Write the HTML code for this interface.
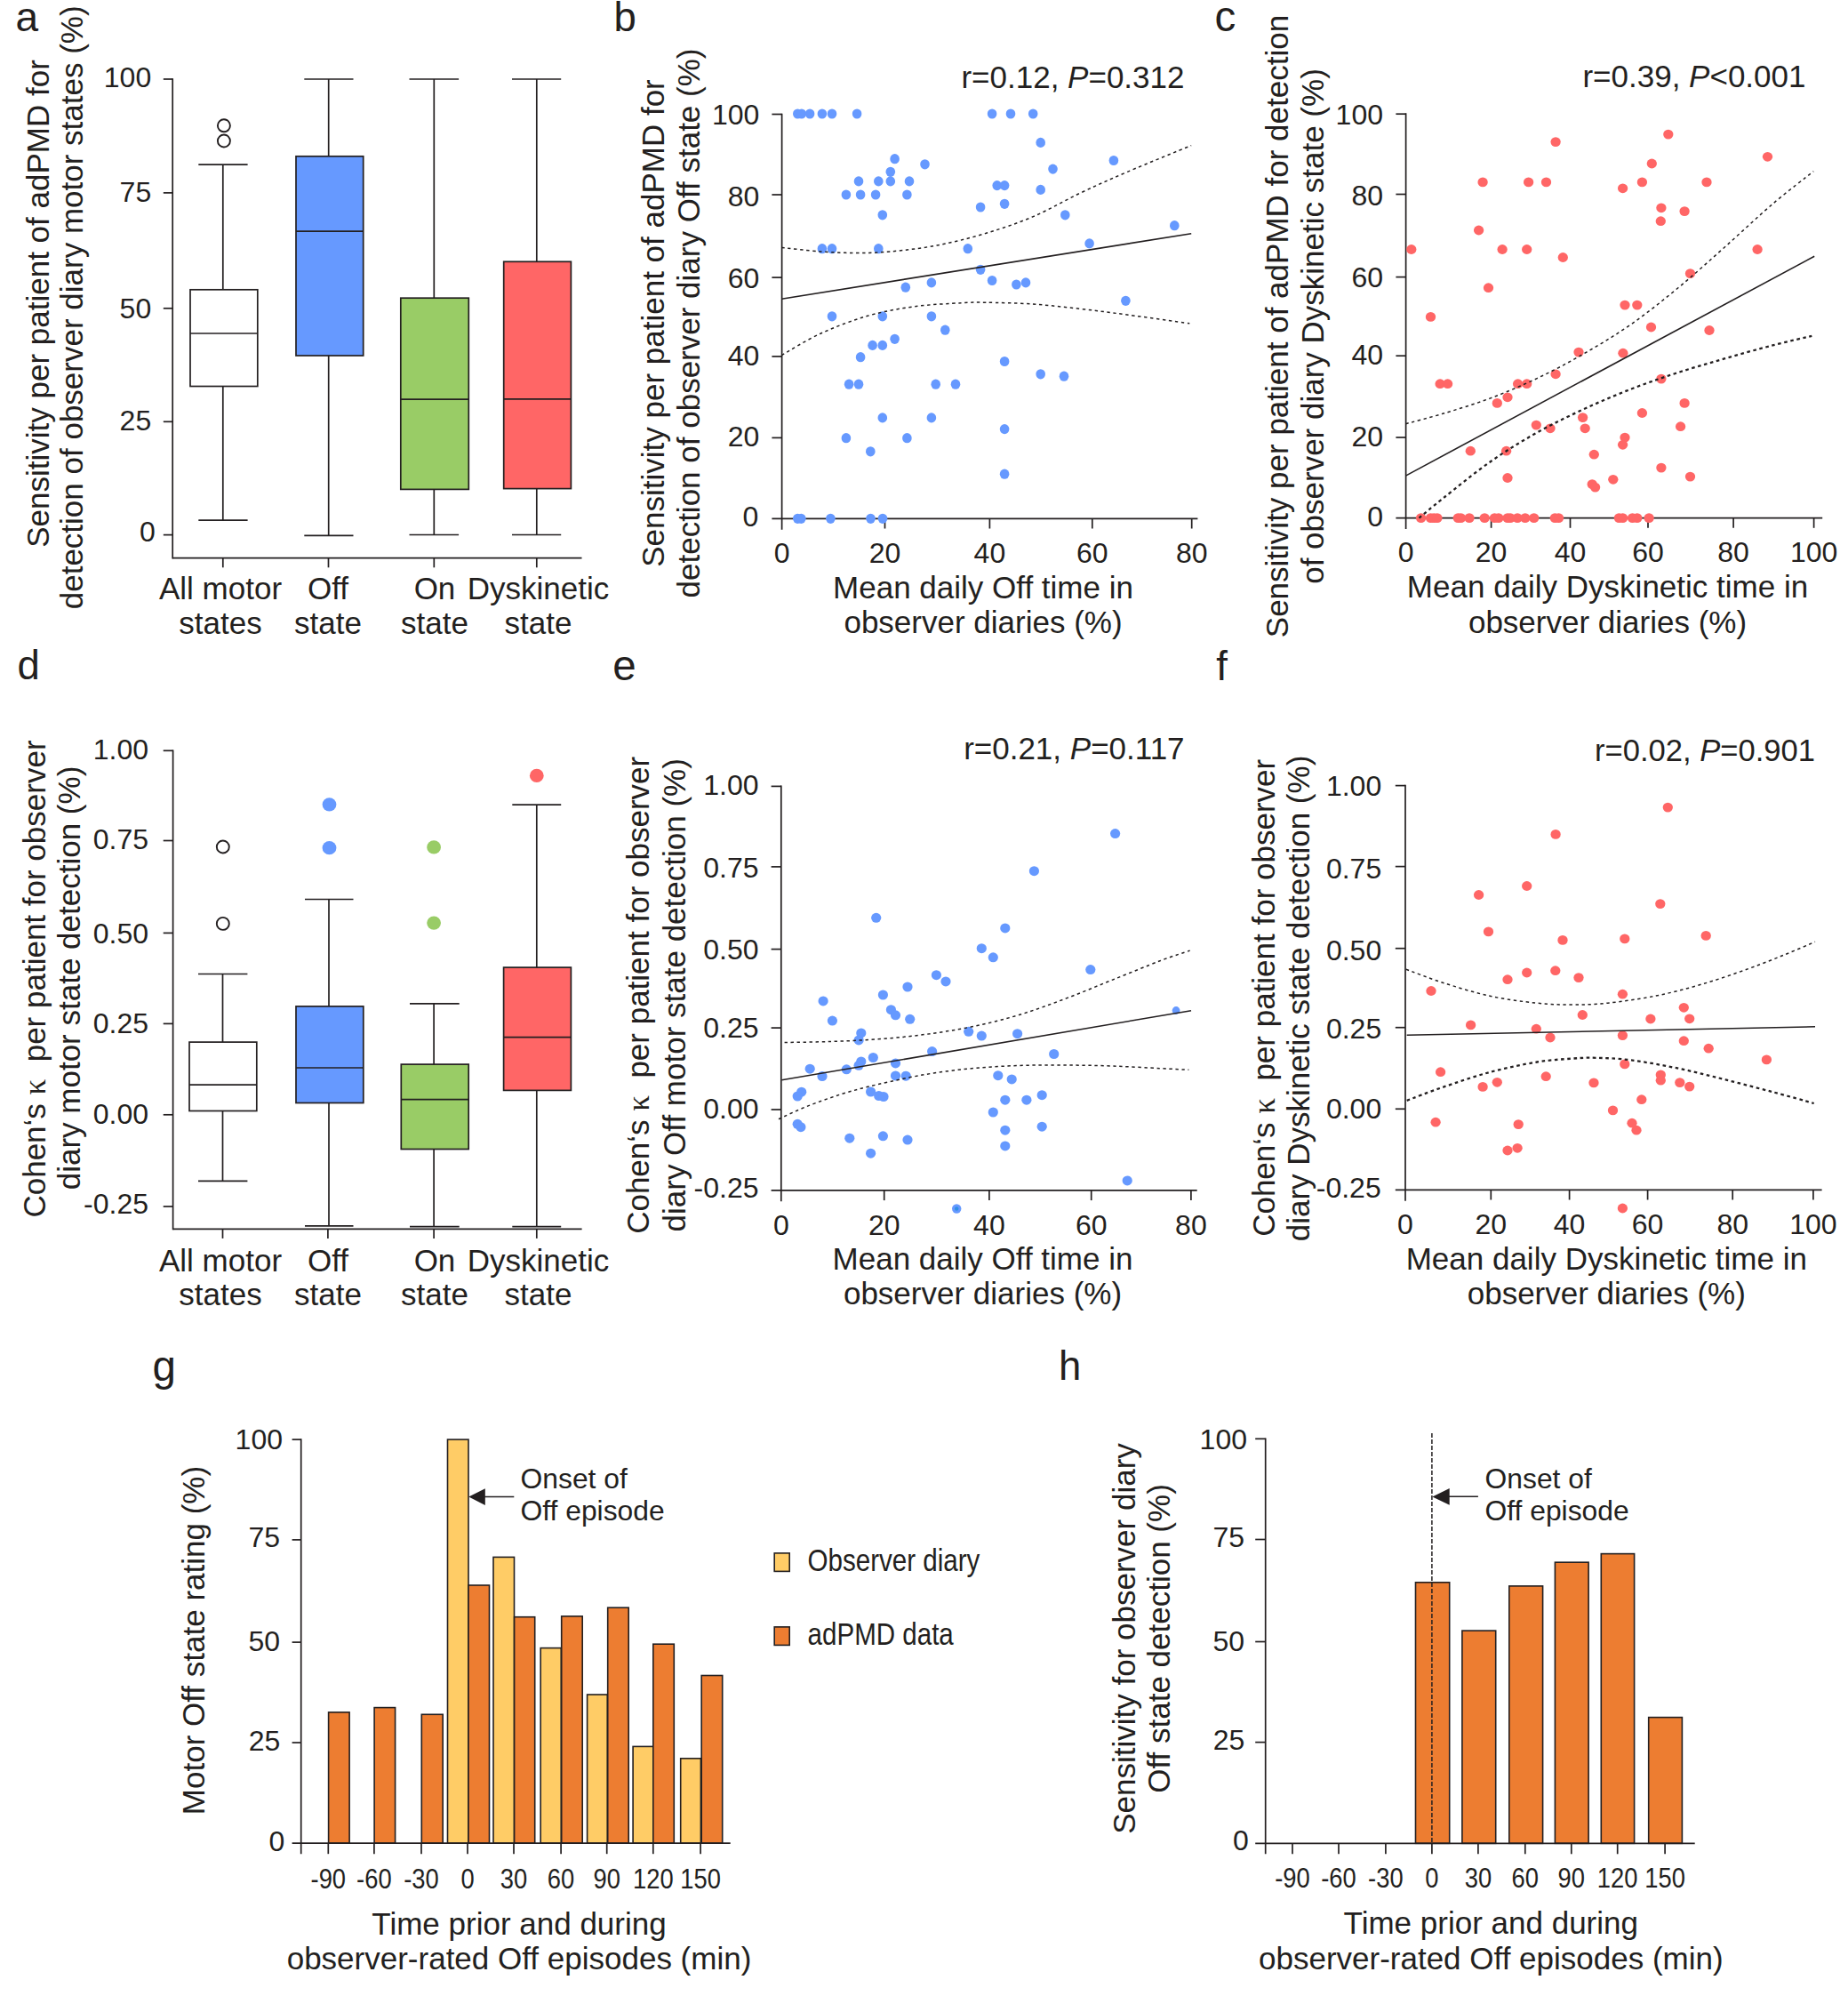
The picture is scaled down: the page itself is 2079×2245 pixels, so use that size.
<!DOCTYPE html>
<html lang="en"><head><meta charset="utf-8"><title>Figure</title>
<style>
html,body{margin:0;padding:0;background:#fff}
svg{display:block}
text{font-family:"Liberation Sans",sans-serif;fill:#231f20}
</style></head>
<body>
<svg width="2079" height="2245" viewBox="0 0 2079 2245">
<rect width="2079" height="2245" fill="#ffffff"/>
<text x="17.5" y="35.2" font-size="46" text-anchor="start" >a</text>
<line x1="194.2" y1="88.2" x2="194.2" y2="628.6" stroke="#231f20" stroke-width="1.7" />
<line x1="194.2" y1="627.7" x2="654.5" y2="627.7" stroke="#231f20" stroke-width="1.7" />
<line x1="183.8" y1="89" x2="194.2" y2="89" stroke="#231f20" stroke-width="1.7" />
<text x="170.2" y="98" font-size="32" text-anchor="end" >100</text>
<line x1="183.8" y1="216.9" x2="194.2" y2="216.9" stroke="#231f20" stroke-width="1.7" />
<text x="170.2" y="227.3" font-size="32" text-anchor="end" >75</text>
<line x1="183.8" y1="346.8" x2="194.2" y2="346.8" stroke="#231f20" stroke-width="1.7" />
<text x="170.2" y="358.2" font-size="32" text-anchor="end" >50</text>
<line x1="183.8" y1="474.3" x2="194.2" y2="474.3" stroke="#231f20" stroke-width="1.7" />
<text x="170.2" y="484.4" font-size="32" text-anchor="end" >25</text>
<line x1="183.8" y1="601.6" x2="194.2" y2="601.6" stroke="#231f20" stroke-width="1.7" />
<text x="174.9" y="609.2" font-size="32" text-anchor="end" >0</text>
<line x1="250.8" y1="627.7" x2="250.8" y2="638.3" stroke="#231f20" stroke-width="1.7" />
<line x1="369.5" y1="627.7" x2="369.5" y2="638.3" stroke="#231f20" stroke-width="1.7" />
<line x1="488.3" y1="627.7" x2="488.3" y2="638.3" stroke="#231f20" stroke-width="1.7" />
<line x1="603.8" y1="627.7" x2="603.8" y2="638.3" stroke="#231f20" stroke-width="1.7" />
<line x1="250.8" y1="185.2" x2="250.8" y2="325.8" stroke="#231f20" stroke-width="1.7" />
<line x1="250.8" y1="434.5" x2="250.8" y2="585.2" stroke="#231f20" stroke-width="1.7" />
<line x1="223.3" y1="185.2" x2="278.6" y2="185.2" stroke="#231f20" stroke-width="1.7" />
<line x1="223.3" y1="585.2" x2="278.6" y2="585.2" stroke="#231f20" stroke-width="1.7" />
<rect x="214" y="325.8" width="75.8" height="108.7" fill="#ffffff" stroke="#231f20" stroke-width="1.7"/>
<line x1="214" y1="375" x2="289.8" y2="375" stroke="#231f20" stroke-width="1.7" />
<circle cx="251.9" cy="141.3" r="7.0" fill="#fff" stroke="#231f20" stroke-width="1.9"/>
<circle cx="251.9" cy="158.5" r="7.0" fill="#fff" stroke="#231f20" stroke-width="1.9"/>
<line x1="369.7" y1="89" x2="369.7" y2="175.8" stroke="#231f20" stroke-width="1.7" />
<line x1="369.7" y1="400" x2="369.7" y2="602.3" stroke="#231f20" stroke-width="1.7" />
<line x1="342.3" y1="89" x2="397.5" y2="89" stroke="#231f20" stroke-width="1.7" />
<line x1="342.3" y1="602.3" x2="397.5" y2="602.3" stroke="#231f20" stroke-width="1.7" />
<rect x="333" y="175.8" width="75.7" height="224.2" fill="#6699ff" stroke="#231f20" stroke-width="1.7"/>
<line x1="333" y1="260.2" x2="408.7" y2="260.2" stroke="#231f20" stroke-width="1.7" />
<line x1="488.3" y1="89" x2="488.3" y2="335.2" stroke="#231f20" stroke-width="1.7" />
<line x1="488.3" y1="550.4" x2="488.3" y2="601.5" stroke="#231f20" stroke-width="1.7" />
<line x1="460.5" y1="89" x2="516.1" y2="89" stroke="#231f20" stroke-width="1.7" />
<line x1="460.5" y1="601.5" x2="516.1" y2="601.5" stroke="#231f20" stroke-width="1.7" />
<rect x="450.8" y="335.2" width="76.5" height="215.2" fill="#99cc66" stroke="#231f20" stroke-width="1.7"/>
<line x1="450.8" y1="449.2" x2="527.3" y2="449.2" stroke="#231f20" stroke-width="1.7" />
<line x1="603.8" y1="89" x2="603.8" y2="294.3" stroke="#231f20" stroke-width="1.7" />
<line x1="603.8" y1="549.6" x2="603.8" y2="601.5" stroke="#231f20" stroke-width="1.7" />
<line x1="576" y1="89" x2="631.2" y2="89" stroke="#231f20" stroke-width="1.7" />
<line x1="576" y1="601.5" x2="631.2" y2="601.5" stroke="#231f20" stroke-width="1.7" />
<rect x="566.7" y="294.3" width="75.7" height="255.3" fill="#ff6666" stroke="#231f20" stroke-width="1.7"/>
<line x1="566.7" y1="448.9" x2="642.4" y2="448.9" stroke="#231f20" stroke-width="1.7" />
<text x="248" y="674.2" font-size="35" text-anchor="middle" >All motor</text>
<text x="248" y="713.4" font-size="35" text-anchor="middle" >states</text>
<text x="369" y="674.2" font-size="35" text-anchor="middle" >Off</text>
<text x="369" y="713.4" font-size="35" text-anchor="middle" >state</text>
<text x="489" y="674.2" font-size="35" text-anchor="middle" >On</text>
<text x="489" y="713.4" font-size="35" text-anchor="middle" >state</text>
<text x="605.5" y="674.2" font-size="35" text-anchor="middle" >Dyskinetic</text>
<text x="605.5" y="713.4" font-size="35" text-anchor="middle" >state</text>
<text x="54.5" y="341.5" font-size="35" text-anchor="middle" transform="rotate(-90 54.5 341.5)" >Sensitivity per patient of adPMD for</text>
<text x="93.5" y="345.8" font-size="35" text-anchor="middle" transform="rotate(-90 93.5 345.8)" >detection of observer diary motor states (%)</text>
<text x="19.5" y="763.5" font-size="45.5" text-anchor="start" >d</text>
<line x1="194.6" y1="843.4" x2="194.6" y2="1383.2" stroke="#231f20" stroke-width="1.7" />
<line x1="194.6" y1="1382.4" x2="654.6" y2="1382.4" stroke="#231f20" stroke-width="1.7" />
<line x1="183.7" y1="844.3" x2="194.6" y2="844.3" stroke="#231f20" stroke-width="1.7" />
<text x="167" y="853.6" font-size="32" text-anchor="end" >1.00</text>
<line x1="183.7" y1="945.5" x2="194.6" y2="945.5" stroke="#231f20" stroke-width="1.7" />
<text x="167" y="955.3" font-size="32" text-anchor="end" >0.75</text>
<line x1="183.7" y1="1049.4" x2="194.6" y2="1049.4" stroke="#231f20" stroke-width="1.7" />
<text x="167" y="1060.6" font-size="32" text-anchor="end" >0.50</text>
<line x1="183.7" y1="1151.4" x2="194.6" y2="1151.4" stroke="#231f20" stroke-width="1.7" />
<text x="167" y="1162" font-size="32" text-anchor="end" >0.25</text>
<line x1="183.7" y1="1253.8" x2="194.6" y2="1253.8" stroke="#231f20" stroke-width="1.7" />
<text x="167" y="1264.4" font-size="32" text-anchor="end" >0.00</text>
<line x1="183.7" y1="1357" x2="194.6" y2="1357" stroke="#231f20" stroke-width="1.7" />
<text x="167" y="1364.7" font-size="32" text-anchor="end" >-0.25</text>
<line x1="250.5" y1="1382.4" x2="250.5" y2="1392.9" stroke="#231f20" stroke-width="1.7" />
<line x1="368.9" y1="1382.4" x2="368.9" y2="1392.9" stroke="#231f20" stroke-width="1.7" />
<line x1="488.1" y1="1382.4" x2="488.1" y2="1392.9" stroke="#231f20" stroke-width="1.7" />
<line x1="603.8" y1="1382.4" x2="603.8" y2="1392.9" stroke="#231f20" stroke-width="1.7" />
<line x1="250.5" y1="1095.5" x2="250.5" y2="1172.1" stroke="#231f20" stroke-width="1.7" />
<line x1="250.5" y1="1249.5" x2="250.5" y2="1328.4" stroke="#231f20" stroke-width="1.7" />
<line x1="223" y1="1095.5" x2="278.4" y2="1095.5" stroke="#231f20" stroke-width="1.7" />
<line x1="223" y1="1328.4" x2="278.4" y2="1328.4" stroke="#231f20" stroke-width="1.7" />
<rect x="213" y="1172.1" width="75.8" height="77.4" fill="#ffffff" stroke="#231f20" stroke-width="1.7"/>
<line x1="213" y1="1220.2" x2="288.8" y2="1220.2" stroke="#231f20" stroke-width="1.7" />
<circle cx="250.8" cy="952.5" r="7.0" fill="#fff" stroke="#231f20" stroke-width="1.9"/>
<circle cx="250.8" cy="1038.9" r="7.0" fill="#fff" stroke="#231f20" stroke-width="1.9"/>
<line x1="370" y1="1011.5" x2="370" y2="1131.9" stroke="#231f20" stroke-width="1.7" />
<line x1="370" y1="1240.5" x2="370" y2="1378.9" stroke="#231f20" stroke-width="1.7" />
<line x1="343" y1="1011.5" x2="397.5" y2="1011.5" stroke="#231f20" stroke-width="1.7" />
<line x1="343" y1="1378.9" x2="397.5" y2="1378.9" stroke="#231f20" stroke-width="1.7" />
<rect x="333" y="1131.9" width="75.8" height="108.6" fill="#6699ff" stroke="#231f20" stroke-width="1.7"/>
<line x1="333" y1="1201" x2="408.8" y2="1201" stroke="#231f20" stroke-width="1.7" />
<ellipse cx="370.5" cy="904.8" rx="7.9" ry="7.6" fill="#6699ff"/>
<ellipse cx="370.5" cy="953.7" rx="7.9" ry="7.6" fill="#6699ff"/>
<line x1="488.1" y1="1128.8" x2="488.1" y2="1197.1" stroke="#231f20" stroke-width="1.7" />
<line x1="488.1" y1="1292.5" x2="488.1" y2="1379.6" stroke="#231f20" stroke-width="1.7" />
<line x1="461" y1="1128.8" x2="516.7" y2="1128.8" stroke="#231f20" stroke-width="1.7" />
<line x1="461" y1="1379.6" x2="516.7" y2="1379.6" stroke="#231f20" stroke-width="1.7" />
<rect x="451.3" y="1197.1" width="75.9" height="95.4" fill="#99cc66" stroke="#231f20" stroke-width="1.7"/>
<line x1="451.3" y1="1236.6" x2="527.2" y2="1236.6" stroke="#231f20" stroke-width="1.7" />
<ellipse cx="488.1" cy="952.9" rx="7.9" ry="7.6" fill="#99cc66"/>
<ellipse cx="488.1" cy="1038.1" rx="7.9" ry="7.6" fill="#99cc66"/>
<line x1="603.8" y1="905.2" x2="603.8" y2="1088.1" stroke="#231f20" stroke-width="1.7" />
<line x1="603.8" y1="1226.4" x2="603.8" y2="1379.6" stroke="#231f20" stroke-width="1.7" />
<line x1="576.3" y1="905.2" x2="631.2" y2="905.2" stroke="#231f20" stroke-width="1.7" />
<line x1="576.3" y1="1379.6" x2="631.2" y2="1379.6" stroke="#231f20" stroke-width="1.7" />
<rect x="566.6" y="1088.1" width="75.8" height="138.3" fill="#ff6666" stroke="#231f20" stroke-width="1.7"/>
<line x1="566.6" y1="1166.7" x2="642.4" y2="1166.7" stroke="#231f20" stroke-width="1.7" />
<ellipse cx="603.8" cy="872.4" rx="7.9" ry="7.6" fill="#ff6666"/>
<text x="248" y="1429.5" font-size="35" text-anchor="middle" >All motor</text>
<text x="248" y="1468" font-size="35" text-anchor="middle" >states</text>
<text x="369" y="1429.5" font-size="35" text-anchor="middle" >Off</text>
<text x="369" y="1468" font-size="35" text-anchor="middle" >state</text>
<text x="489" y="1429.5" font-size="35" text-anchor="middle" >On</text>
<text x="489" y="1468" font-size="35" text-anchor="middle" >state</text>
<text x="605.5" y="1429.5" font-size="35" text-anchor="middle" >Dyskinetic</text>
<text x="605.5" y="1468" font-size="35" text-anchor="middle" >state</text>
<text x="51" y="1101" font-size="35" text-anchor="middle" transform="rotate(-90 51 1101)" >Cohen‘s <tspan font-family="Liberation Serif, DejaVu Serif, serif">κ</tspan>  per patient for observer</text>
<text x="90" y="1100" font-size="35" text-anchor="middle" transform="rotate(-90 90 1100)" >diary motor state detection (%)</text>
<text x="690.5" y="34.5" font-size="45.5" text-anchor="start" >b</text>
<line x1="879.6" y1="127.7" x2="879.6" y2="595.7" stroke="#231f20" stroke-width="1.7" />
<line x1="868.4" y1="583.3" x2="1347.4" y2="583.3" stroke="#231f20" stroke-width="1.7" />
<line x1="995.5" y1="583.3" x2="995.5" y2="594.5" stroke="#231f20" stroke-width="1.7" />
<line x1="1113.4" y1="583.3" x2="1113.4" y2="594.5" stroke="#231f20" stroke-width="1.7" />
<line x1="1228.8" y1="583.3" x2="1228.8" y2="594.5" stroke="#231f20" stroke-width="1.7" />
<line x1="1340.7" y1="583.3" x2="1340.7" y2="594.5" stroke="#231f20" stroke-width="1.7" />
<line x1="868.4" y1="128.5" x2="879.6" y2="128.5" stroke="#231f20" stroke-width="1.7" />
<line x1="868.4" y1="219" x2="879.6" y2="219" stroke="#231f20" stroke-width="1.7" />
<line x1="868.4" y1="312.1" x2="879.6" y2="312.1" stroke="#231f20" stroke-width="1.7" />
<line x1="868.4" y1="400.9" x2="879.6" y2="400.9" stroke="#231f20" stroke-width="1.7" />
<line x1="868.4" y1="492.4" x2="879.6" y2="492.4" stroke="#231f20" stroke-width="1.7" />
<text x="879.6" y="632.6" font-size="32" text-anchor="middle" >0</text>
<text x="995.5" y="632.6" font-size="32" text-anchor="middle" >20</text>
<text x="1113.4" y="632.6" font-size="32" text-anchor="middle" >40</text>
<text x="1228.8" y="632.6" font-size="32" text-anchor="middle" >60</text>
<text x="1340.7" y="632.6" font-size="32" text-anchor="middle" >80</text>
<text x="854.4" y="140.1" font-size="32" text-anchor="end" >100</text>
<text x="854.4" y="231.5" font-size="32" text-anchor="end" >80</text>
<text x="854.4" y="324.2" font-size="32" text-anchor="end" >60</text>
<text x="854.4" y="410.7" font-size="32" text-anchor="end" >40</text>
<text x="854.4" y="502.2" font-size="32" text-anchor="end" >20</text>
<text x="853.4" y="592.2" font-size="32" text-anchor="end" >0</text>
<ellipse cx="1170.7" cy="160.4" rx="5.3" ry="5.6" fill="#6699ff"/>
<ellipse cx="1006.6" cy="178.7" rx="5.3" ry="5.6" fill="#6699ff"/>
<ellipse cx="1252.9" cy="180.5" rx="5.3" ry="5.6" fill="#6699ff"/>
<ellipse cx="1040.5" cy="184.8" rx="5.3" ry="5.6" fill="#6699ff"/>
<ellipse cx="1184.5" cy="190.1" rx="5.3" ry="5.6" fill="#6699ff"/>
<ellipse cx="1001.8" cy="193.3" rx="5.3" ry="5.6" fill="#6699ff"/>
<ellipse cx="966" cy="203.9" rx="5.3" ry="5.6" fill="#6699ff"/>
<ellipse cx="988.3" cy="203.9" rx="5.3" ry="5.6" fill="#6699ff"/>
<ellipse cx="1001.8" cy="203.9" rx="5.3" ry="5.6" fill="#6699ff"/>
<ellipse cx="1023" cy="203.9" rx="5.3" ry="5.6" fill="#6699ff"/>
<ellipse cx="1121.7" cy="208.6" rx="5.3" ry="5.6" fill="#6699ff"/>
<ellipse cx="1130.1" cy="208.6" rx="5.3" ry="5.6" fill="#6699ff"/>
<ellipse cx="1170.7" cy="213.4" rx="5.3" ry="5.6" fill="#6699ff"/>
<ellipse cx="951.9" cy="219" rx="5.3" ry="5.6" fill="#6699ff"/>
<ellipse cx="968.1" cy="219" rx="5.3" ry="5.6" fill="#6699ff"/>
<ellipse cx="985.1" cy="219" rx="5.3" ry="5.6" fill="#6699ff"/>
<ellipse cx="1020.4" cy="219" rx="5.3" ry="5.6" fill="#6699ff"/>
<ellipse cx="1130.1" cy="229.3" rx="5.3" ry="5.6" fill="#6699ff"/>
<ellipse cx="1103.1" cy="233" rx="5.3" ry="5.6" fill="#6699ff"/>
<ellipse cx="992.8" cy="241.8" rx="5.3" ry="5.6" fill="#6699ff"/>
<ellipse cx="1198.3" cy="241.8" rx="5.3" ry="5.6" fill="#6699ff"/>
<ellipse cx="1321.3" cy="253.7" rx="5.3" ry="5.6" fill="#6699ff"/>
<ellipse cx="1225.6" cy="273.9" rx="5.3" ry="5.6" fill="#6699ff"/>
<ellipse cx="924.9" cy="279.7" rx="5.3" ry="5.6" fill="#6699ff"/>
<ellipse cx="936" cy="279.7" rx="5.3" ry="5.6" fill="#6699ff"/>
<ellipse cx="988.3" cy="279.7" rx="5.3" ry="5.6" fill="#6699ff"/>
<ellipse cx="1088.8" cy="279.7" rx="5.3" ry="5.6" fill="#6699ff"/>
<ellipse cx="1103.1" cy="303.3" rx="5.3" ry="5.6" fill="#6699ff"/>
<ellipse cx="1116.1" cy="315.5" rx="5.3" ry="5.6" fill="#6699ff"/>
<ellipse cx="1047.9" cy="317.9" rx="5.3" ry="5.6" fill="#6699ff"/>
<ellipse cx="1143.4" cy="320" rx="5.3" ry="5.6" fill="#6699ff"/>
<ellipse cx="1154" cy="317.9" rx="5.3" ry="5.6" fill="#6699ff"/>
<ellipse cx="1018.8" cy="323.2" rx="5.3" ry="5.6" fill="#6699ff"/>
<ellipse cx="1266.4" cy="338.3" rx="5.3" ry="5.6" fill="#6699ff"/>
<ellipse cx="936" cy="355.8" rx="5.3" ry="5.6" fill="#6699ff"/>
<ellipse cx="992.8" cy="355.8" rx="5.3" ry="5.6" fill="#6699ff"/>
<ellipse cx="1047.9" cy="355.8" rx="5.3" ry="5.6" fill="#6699ff"/>
<ellipse cx="1063.3" cy="371.2" rx="5.3" ry="5.6" fill="#6699ff"/>
<ellipse cx="1006.6" cy="381.3" rx="5.3" ry="5.6" fill="#6699ff"/>
<ellipse cx="981.6" cy="388.4" rx="5.3" ry="5.6" fill="#6699ff"/>
<ellipse cx="992.8" cy="388.4" rx="5.3" ry="5.6" fill="#6699ff"/>
<ellipse cx="968.1" cy="401.7" rx="5.3" ry="5.6" fill="#6699ff"/>
<ellipse cx="1130.1" cy="406.5" rx="5.3" ry="5.6" fill="#6699ff"/>
<ellipse cx="1170.7" cy="420.8" rx="5.3" ry="5.6" fill="#6699ff"/>
<ellipse cx="1197" cy="423.2" rx="5.3" ry="5.6" fill="#6699ff"/>
<ellipse cx="955.1" cy="432.2" rx="5.3" ry="5.6" fill="#6699ff"/>
<ellipse cx="966" cy="432.2" rx="5.3" ry="5.6" fill="#6699ff"/>
<ellipse cx="1052.7" cy="432.2" rx="5.3" ry="5.6" fill="#6699ff"/>
<ellipse cx="1075" cy="432.2" rx="5.3" ry="5.6" fill="#6699ff"/>
<ellipse cx="992.8" cy="469.9" rx="5.3" ry="5.6" fill="#6699ff"/>
<ellipse cx="1047.9" cy="469.9" rx="5.3" ry="5.6" fill="#6699ff"/>
<ellipse cx="1130.1" cy="482.6" rx="5.3" ry="5.6" fill="#6699ff"/>
<ellipse cx="951.9" cy="492.7" rx="5.3" ry="5.6" fill="#6699ff"/>
<ellipse cx="1020.4" cy="492.7" rx="5.3" ry="5.6" fill="#6699ff"/>
<ellipse cx="979.3" cy="507.8" rx="5.3" ry="5.6" fill="#6699ff"/>
<ellipse cx="1130.1" cy="533.2" rx="5.3" ry="5.6" fill="#6699ff"/>
<ellipse cx="897.3" cy="128" rx="5.3" ry="5.6" fill="#6699ff"/>
<ellipse cx="901.8" cy="128" rx="5.3" ry="5.6" fill="#6699ff"/>
<ellipse cx="911.1" cy="128" rx="5.3" ry="5.6" fill="#6699ff"/>
<ellipse cx="924.9" cy="128" rx="5.3" ry="5.6" fill="#6699ff"/>
<ellipse cx="936" cy="128" rx="5.3" ry="5.6" fill="#6699ff"/>
<ellipse cx="964.1" cy="128" rx="5.3" ry="5.6" fill="#6699ff"/>
<ellipse cx="1116.1" cy="128" rx="5.3" ry="5.6" fill="#6699ff"/>
<ellipse cx="1137" cy="128" rx="5.3" ry="5.6" fill="#6699ff"/>
<ellipse cx="1162.2" cy="128" rx="5.3" ry="5.6" fill="#6699ff"/>
<ellipse cx="897.3" cy="583.3" rx="5.3" ry="5.6" fill="#6699ff"/>
<ellipse cx="901.3" cy="583.3" rx="5.3" ry="5.6" fill="#6699ff"/>
<ellipse cx="934.4" cy="583.3" rx="5.3" ry="5.6" fill="#6699ff"/>
<ellipse cx="979.5" cy="583.3" rx="5.3" ry="5.6" fill="#6699ff"/>
<ellipse cx="993" cy="583.3" rx="5.3" ry="5.6" fill="#6699ff"/>
<line x1="879.3" y1="336.2" x2="1340.2" y2="262.7" stroke="#231f20" stroke-width="1.6" />
<path d="M879.3 278.4C886.6 279.1 909.1 281.9 923 282.9C937 283.9 949.6 284.5 962.8 284.5C976.1 284.5 987.1 284.4 1002.6 282.9C1018.1 281.4 1037.9 279.1 1055.6 275.7C1073.3 272.3 1091 267.8 1108.7 262.5C1126.3 257.2 1144 251.4 1161.7 243.9C1179.4 236.4 1197.1 225.8 1214.7 217.4C1232.4 209 1246.9 202.5 1267.8 193.5C1288.7 184.6 1328.1 168.6 1340.2 163.6" fill="none" stroke="#231f20" stroke-width="1.5" stroke-dasharray="3.4 3.6"/>
<path d="M879.3 399.6C886.6 395.5 906.9 382.6 923 375.2C939.2 367.8 958.4 360.4 976.1 355.3C993.8 350.2 1011.4 347.1 1029.1 344.7C1046.8 342.3 1068.9 341.5 1082.1 340.7C1095.4 340 1095.4 340 1108.7 340.2C1121.9 340.4 1144 340.8 1161.7 342C1179.4 343.2 1197.1 345.3 1214.7 347.3C1232.4 349.3 1247.2 351.2 1267.8 354C1288.4 356.7 1326.6 362.1 1338.3 363.8" fill="none" stroke="#231f20" stroke-width="1.5" stroke-dasharray="3.4 3.6"/>
<text x="1332.5" y="98.6" font-size="35" text-anchor="end" >r=0.12, <tspan font-style="italic">P</tspan>=0.312</text>
<text x="1106" y="672.6" font-size="35" text-anchor="middle" >Mean daily Off time in</text>
<text x="1106" y="712.4" font-size="35" text-anchor="middle" >observer diaries (%)</text>
<text x="747.4" y="363.5" font-size="35" text-anchor="middle" transform="rotate(-90 747.4 363.5)" >Sensitivity per patient of adPMD for</text>
<text x="786.8" y="363.5" font-size="35" text-anchor="middle" transform="rotate(-90 786.8 363.5)" >detection of observer diary Off state (%)</text>
<text x="1366.6" y="34.6" font-size="47.5" text-anchor="start" >c</text>
<line x1="1581.6" y1="127.3" x2="1581.6" y2="595" stroke="#231f20" stroke-width="1.7" />
<line x1="1570.4" y1="582.6" x2="2050.2" y2="582.6" stroke="#231f20" stroke-width="1.7" />
<line x1="1677.6" y1="582.6" x2="1677.6" y2="593.8" stroke="#231f20" stroke-width="1.7" />
<line x1="1766.5" y1="582.6" x2="1766.5" y2="593.8" stroke="#231f20" stroke-width="1.7" />
<line x1="1854" y1="582.6" x2="1854" y2="593.8" stroke="#231f20" stroke-width="1.7" />
<line x1="1950.1" y1="582.6" x2="1950.1" y2="593.8" stroke="#231f20" stroke-width="1.7" />
<line x1="2040.6" y1="582.6" x2="2040.6" y2="593.8" stroke="#231f20" stroke-width="1.7" />
<line x1="1570.4" y1="128.2" x2="1581.6" y2="128.2" stroke="#231f20" stroke-width="1.7" />
<line x1="1570.4" y1="218.5" x2="1581.6" y2="218.5" stroke="#231f20" stroke-width="1.7" />
<line x1="1570.4" y1="311.6" x2="1581.6" y2="311.6" stroke="#231f20" stroke-width="1.7" />
<line x1="1570.4" y1="400.2" x2="1581.6" y2="400.2" stroke="#231f20" stroke-width="1.7" />
<line x1="1570.4" y1="492" x2="1581.6" y2="492" stroke="#231f20" stroke-width="1.7" />
<text x="1581.6" y="631.7" font-size="32" text-anchor="middle" >0</text>
<text x="1677.6" y="631.7" font-size="32" text-anchor="middle" >20</text>
<text x="1766.5" y="631.7" font-size="32" text-anchor="middle" >40</text>
<text x="1854" y="631.7" font-size="32" text-anchor="middle" >60</text>
<text x="1950.1" y="631.7" font-size="32" text-anchor="middle" >80</text>
<text x="2040.6" y="631.7" font-size="32" text-anchor="middle" >100</text>
<text x="1556" y="139.8" font-size="32" text-anchor="end" >100</text>
<text x="1556" y="230.8" font-size="32" text-anchor="end" >80</text>
<text x="1556" y="323.2" font-size="32" text-anchor="end" >60</text>
<text x="1556" y="410" font-size="32" text-anchor="end" >40</text>
<text x="1556" y="501.8" font-size="32" text-anchor="end" >20</text>
<text x="1556" y="592" font-size="32" text-anchor="end" >0</text>
<ellipse cx="1876.8" cy="151.1" rx="5.65" ry="5.4" fill="#ff6666"/>
<ellipse cx="1750.1" cy="159.6" rx="5.65" ry="5.4" fill="#ff6666"/>
<ellipse cx="1988.5" cy="176.3" rx="5.65" ry="5.4" fill="#ff6666"/>
<ellipse cx="1858.3" cy="184" rx="5.65" ry="5.4" fill="#ff6666"/>
<ellipse cx="1668.1" cy="204.9" rx="5.65" ry="5.4" fill="#ff6666"/>
<ellipse cx="1719.6" cy="204.9" rx="5.65" ry="5.4" fill="#ff6666"/>
<ellipse cx="1739.5" cy="204.9" rx="5.65" ry="5.4" fill="#ff6666"/>
<ellipse cx="1847.4" cy="204.9" rx="5.65" ry="5.4" fill="#ff6666"/>
<ellipse cx="1920" cy="204.9" rx="5.65" ry="5.4" fill="#ff6666"/>
<ellipse cx="1825.6" cy="211.8" rx="5.65" ry="5.4" fill="#ff6666"/>
<ellipse cx="1868.9" cy="233.8" rx="5.65" ry="5.4" fill="#ff6666"/>
<ellipse cx="1895.1" cy="237.6" rx="5.65" ry="5.4" fill="#ff6666"/>
<ellipse cx="1868.3" cy="248.7" rx="5.65" ry="5.4" fill="#ff6666"/>
<ellipse cx="1663.6" cy="259" rx="5.65" ry="5.4" fill="#ff6666"/>
<ellipse cx="1587.8" cy="280.5" rx="5.65" ry="5.4" fill="#ff6666"/>
<ellipse cx="1690.1" cy="280.5" rx="5.65" ry="5.4" fill="#ff6666"/>
<ellipse cx="1717.7" cy="280.5" rx="5.65" ry="5.4" fill="#ff6666"/>
<ellipse cx="1977.1" cy="280.5" rx="5.65" ry="5.4" fill="#ff6666"/>
<ellipse cx="1758.3" cy="289.5" rx="5.65" ry="5.4" fill="#ff6666"/>
<ellipse cx="1901.5" cy="307.6" rx="5.65" ry="5.4" fill="#ff6666"/>
<ellipse cx="1674.5" cy="323.7" rx="5.65" ry="5.4" fill="#ff6666"/>
<ellipse cx="1828" cy="343.1" rx="5.65" ry="5.4" fill="#ff6666"/>
<ellipse cx="1841.8" cy="343.1" rx="5.65" ry="5.4" fill="#ff6666"/>
<ellipse cx="1609.5" cy="356.4" rx="5.65" ry="5.4" fill="#ff6666"/>
<ellipse cx="1857.5" cy="368" rx="5.65" ry="5.4" fill="#ff6666"/>
<ellipse cx="1923" cy="371.5" rx="5.65" ry="5.4" fill="#ff6666"/>
<ellipse cx="1776" cy="396.1" rx="5.65" ry="5.4" fill="#ff6666"/>
<ellipse cx="1825.9" cy="397.2" rx="5.65" ry="5.4" fill="#ff6666"/>
<ellipse cx="1750.1" cy="420.8" rx="5.65" ry="5.4" fill="#ff6666"/>
<ellipse cx="1868.9" cy="426.1" rx="5.65" ry="5.4" fill="#ff6666"/>
<ellipse cx="1620.1" cy="431.7" rx="5.65" ry="5.4" fill="#ff6666"/>
<ellipse cx="1628.6" cy="431.7" rx="5.65" ry="5.4" fill="#ff6666"/>
<ellipse cx="1707.6" cy="431.7" rx="5.65" ry="5.4" fill="#ff6666"/>
<ellipse cx="1717.7" cy="431.7" rx="5.65" ry="5.4" fill="#ff6666"/>
<ellipse cx="1696" cy="446.8" rx="5.65" ry="5.4" fill="#ff6666"/>
<ellipse cx="1684.3" cy="453.4" rx="5.65" ry="5.4" fill="#ff6666"/>
<ellipse cx="1895.1" cy="453.4" rx="5.65" ry="5.4" fill="#ff6666"/>
<ellipse cx="1847.4" cy="464.5" rx="5.65" ry="5.4" fill="#ff6666"/>
<ellipse cx="1780.6" cy="469.6" rx="5.65" ry="5.4" fill="#ff6666"/>
<ellipse cx="1728.3" cy="478.1" rx="5.65" ry="5.4" fill="#ff6666"/>
<ellipse cx="1744" cy="481.8" rx="5.65" ry="5.4" fill="#ff6666"/>
<ellipse cx="1783.2" cy="481.8" rx="5.65" ry="5.4" fill="#ff6666"/>
<ellipse cx="1890.6" cy="479.7" rx="5.65" ry="5.4" fill="#ff6666"/>
<ellipse cx="1828" cy="492.1" rx="5.65" ry="5.4" fill="#ff6666"/>
<ellipse cx="1825.6" cy="500.3" rx="5.65" ry="5.4" fill="#ff6666"/>
<ellipse cx="1654.3" cy="507.2" rx="5.65" ry="5.4" fill="#ff6666"/>
<ellipse cx="1694.6" cy="507.2" rx="5.65" ry="5.4" fill="#ff6666"/>
<ellipse cx="1793.3" cy="511.2" rx="5.65" ry="5.4" fill="#ff6666"/>
<ellipse cx="1868.9" cy="526.1" rx="5.65" ry="5.4" fill="#ff6666"/>
<ellipse cx="1696" cy="537.5" rx="5.65" ry="5.4" fill="#ff6666"/>
<ellipse cx="1901.5" cy="536.1" rx="5.65" ry="5.4" fill="#ff6666"/>
<ellipse cx="1814.8" cy="539.3" rx="5.65" ry="5.4" fill="#ff6666"/>
<ellipse cx="1791.2" cy="544.6" rx="5.65" ry="5.4" fill="#ff6666"/>
<ellipse cx="1794.6" cy="548.1" rx="5.65" ry="5.4" fill="#ff6666"/>
<ellipse cx="1598.6" cy="582.6" rx="5.65" ry="5.4" fill="#ff6666"/>
<ellipse cx="1609.5" cy="582.6" rx="5.65" ry="5.4" fill="#ff6666"/>
<ellipse cx="1613.2" cy="582.6" rx="5.65" ry="5.4" fill="#ff6666"/>
<ellipse cx="1616.9" cy="582.6" rx="5.65" ry="5.4" fill="#ff6666"/>
<ellipse cx="1640.3" cy="582.6" rx="5.65" ry="5.4" fill="#ff6666"/>
<ellipse cx="1643.5" cy="582.6" rx="5.65" ry="5.4" fill="#ff6666"/>
<ellipse cx="1653" cy="582.6" rx="5.65" ry="5.4" fill="#ff6666"/>
<ellipse cx="1670.2" cy="582.6" rx="5.65" ry="5.4" fill="#ff6666"/>
<ellipse cx="1681.4" cy="582.6" rx="5.65" ry="5.4" fill="#ff6666"/>
<ellipse cx="1685.9" cy="582.6" rx="5.65" ry="5.4" fill="#ff6666"/>
<ellipse cx="1696" cy="582.6" rx="5.65" ry="5.4" fill="#ff6666"/>
<ellipse cx="1699.1" cy="582.6" rx="5.65" ry="5.4" fill="#ff6666"/>
<ellipse cx="1707.1" cy="582.6" rx="5.65" ry="5.4" fill="#ff6666"/>
<ellipse cx="1715.8" cy="582.6" rx="5.65" ry="5.4" fill="#ff6666"/>
<ellipse cx="1725.7" cy="582.6" rx="5.65" ry="5.4" fill="#ff6666"/>
<ellipse cx="1749.3" cy="582.6" rx="5.65" ry="5.4" fill="#ff6666"/>
<ellipse cx="1753.5" cy="582.6" rx="5.65" ry="5.4" fill="#ff6666"/>
<ellipse cx="1821.4" cy="582.6" rx="5.65" ry="5.4" fill="#ff6666"/>
<ellipse cx="1825.6" cy="582.6" rx="5.65" ry="5.4" fill="#ff6666"/>
<ellipse cx="1836.5" cy="582.6" rx="5.65" ry="5.4" fill="#ff6666"/>
<ellipse cx="1841.8" cy="582.6" rx="5.65" ry="5.4" fill="#ff6666"/>
<ellipse cx="1855.1" cy="582.6" rx="5.65" ry="5.4" fill="#ff6666"/>
<line x1="1581.4" y1="535.1" x2="2041.2" y2="288.2" stroke="#231f20" stroke-width="1.6" />
<path d="M1581.4 476.7C1588.3 474.8 1607.3 470.1 1623 465.3C1638.8 460.6 1658.4 454.7 1676.1 448.1C1693.8 441.5 1711.4 434 1729.1 425.6C1746.8 417.2 1764.5 407.9 1782.1 397.7C1799.8 387.6 1817.5 376.9 1835.2 364.6C1852.9 352.2 1870.5 338.1 1888.2 323.5C1905.9 308.9 1923.6 292.8 1941.3 277.1C1958.9 261.4 1977.8 243.4 1994.3 229.3C2010.8 215.3 2032.5 198.8 2040.2 192.7" fill="none" stroke="#231f20" stroke-width="1.5" stroke-dasharray="3.4 3.6"/>
<path d="M1596.5 582.6C1600.9 578.9 1609.8 571.3 1623 560.8C1636.3 550.3 1658.4 532.1 1676.1 519.7C1693.8 507.3 1711.4 496.5 1729.1 486.6C1746.8 476.6 1764.5 468.2 1782.1 460C1799.8 451.9 1817.5 444.3 1835.2 437.5C1852.9 430.6 1870.5 424.7 1888.2 418.9C1905.9 413.2 1923.6 408.1 1941.3 403C1958.9 397.9 1978.1 392.6 1994.3 388.4C2010.5 384.2 2031 379.6 2038.3 377.8" fill="none" stroke="#231f20" stroke-width="2.3" stroke-dasharray="3.6 3.6"/>
<text x="2031.5" y="97.7" font-size="35" text-anchor="end" >r=0.39, <tspan font-style="italic">P</tspan>&lt;0.001</text>
<text x="1808.5" y="672.4" font-size="35" text-anchor="middle" >Mean daily Dyskinetic time in</text>
<text x="1808.5" y="712.4" font-size="35" text-anchor="middle" >observer diaries (%)</text>
<text x="1448.6" y="367" font-size="35" text-anchor="middle" transform="rotate(-90 1448.6 367)" >Sensitivity per patient of adPMD for detection</text>
<text x="1488.8" y="367" font-size="35" text-anchor="middle" transform="rotate(-90 1488.8 367)" >of observer diary Dyskinetic state (%)</text>
<text x="689.3" y="764.6" font-size="47.5" text-anchor="start" >e</text>
<line x1="878.8" y1="883.5" x2="878.8" y2="1351.3" stroke="#231f20" stroke-width="1.7" />
<line x1="867.6" y1="1338.9" x2="1346.7" y2="1338.9" stroke="#231f20" stroke-width="1.7" />
<line x1="994.7" y1="1338.9" x2="994.7" y2="1350.1" stroke="#231f20" stroke-width="1.7" />
<line x1="1112.9" y1="1338.9" x2="1112.9" y2="1350.1" stroke="#231f20" stroke-width="1.7" />
<line x1="1227.7" y1="1338.9" x2="1227.7" y2="1350.1" stroke="#231f20" stroke-width="1.7" />
<line x1="1339.9" y1="1338.9" x2="1339.9" y2="1350.1" stroke="#231f20" stroke-width="1.7" />
<line x1="867.6" y1="884.4" x2="878.8" y2="884.4" stroke="#231f20" stroke-width="1.7" />
<line x1="867.6" y1="974.9" x2="878.8" y2="974.9" stroke="#231f20" stroke-width="1.7" />
<line x1="867.6" y1="1067.6" x2="878.8" y2="1067.6" stroke="#231f20" stroke-width="1.7" />
<line x1="867.6" y1="1156.1" x2="878.8" y2="1156.1" stroke="#231f20" stroke-width="1.7" />
<line x1="867.6" y1="1248" x2="878.8" y2="1248" stroke="#231f20" stroke-width="1.7" />
<text x="878.8" y="1389.1" font-size="32" text-anchor="middle" >0</text>
<text x="994.7" y="1389.1" font-size="32" text-anchor="middle" >20</text>
<text x="1112.9" y="1389.1" font-size="32" text-anchor="middle" >40</text>
<text x="1227.7" y="1389.1" font-size="32" text-anchor="middle" >60</text>
<text x="1339.9" y="1389.1" font-size="32" text-anchor="middle" >80</text>
<text x="853.5" y="894.4" font-size="32" text-anchor="end" >1.00</text>
<text x="853.5" y="986.5" font-size="32" text-anchor="end" >0.75</text>
<text x="853.5" y="1079.2" font-size="32" text-anchor="end" >0.50</text>
<text x="853.5" y="1166.8" font-size="32" text-anchor="end" >0.25</text>
<text x="853.5" y="1257.6" font-size="32" text-anchor="end" >0.00</text>
<text x="853.5" y="1346.9" font-size="32" text-anchor="end" >-0.25</text>
<ellipse cx="1254.6" cy="937.6" rx="5.6" ry="5.5" fill="#6699ff"/>
<ellipse cx="1163.4" cy="979.7" rx="5.6" ry="5.5" fill="#6699ff"/>
<ellipse cx="985.7" cy="1032.3" rx="5.6" ry="5.5" fill="#6699ff"/>
<ellipse cx="1130.8" cy="1043.9" rx="5.6" ry="5.5" fill="#6699ff"/>
<ellipse cx="1104.3" cy="1066.7" rx="5.6" ry="5.5" fill="#6699ff"/>
<ellipse cx="1117.3" cy="1076.8" rx="5.6" ry="5.5" fill="#6699ff"/>
<ellipse cx="1226.8" cy="1090.6" rx="5.6" ry="5.5" fill="#6699ff"/>
<ellipse cx="1053.4" cy="1096.7" rx="5.6" ry="5.5" fill="#6699ff"/>
<ellipse cx="1064" cy="1103.9" rx="5.6" ry="5.5" fill="#6699ff"/>
<ellipse cx="1021" cy="1110" rx="5.6" ry="5.5" fill="#6699ff"/>
<ellipse cx="993.4" cy="1119" rx="5.6" ry="5.5" fill="#6699ff"/>
<ellipse cx="926.1" cy="1125.9" rx="5.6" ry="5.5" fill="#6699ff"/>
<ellipse cx="1002.4" cy="1135.7" rx="5.6" ry="5.5" fill="#6699ff"/>
<ellipse cx="1007.5" cy="1141.8" rx="5.6" ry="5.5" fill="#6699ff"/>
<ellipse cx="1023.7" cy="1146.3" rx="5.6" ry="5.5" fill="#6699ff"/>
<ellipse cx="936.4" cy="1148.1" rx="5.6" ry="5.5" fill="#6699ff"/>
<ellipse cx="1089.7" cy="1160.3" rx="5.6" ry="5.5" fill="#6699ff"/>
<ellipse cx="968.8" cy="1161.9" rx="5.6" ry="5.5" fill="#6699ff"/>
<ellipse cx="1144.6" cy="1162.7" rx="5.6" ry="5.5" fill="#6699ff"/>
<ellipse cx="1104.3" cy="1165.1" rx="5.6" ry="5.5" fill="#6699ff"/>
<ellipse cx="966.1" cy="1169.9" rx="5.6" ry="5.5" fill="#6699ff"/>
<ellipse cx="1048.6" cy="1182.6" rx="5.6" ry="5.5" fill="#6699ff"/>
<ellipse cx="1185.7" cy="1185.5" rx="5.6" ry="5.5" fill="#6699ff"/>
<ellipse cx="982.3" cy="1189.5" rx="5.6" ry="5.5" fill="#6699ff"/>
<ellipse cx="968.8" cy="1194" rx="5.6" ry="5.5" fill="#6699ff"/>
<ellipse cx="966.1" cy="1198.3" rx="5.6" ry="5.5" fill="#6699ff"/>
<ellipse cx="1007.5" cy="1195.9" rx="5.6" ry="5.5" fill="#6699ff"/>
<ellipse cx="911.2" cy="1202.2" rx="5.6" ry="5.5" fill="#6699ff"/>
<ellipse cx="952.3" cy="1202.8" rx="5.6" ry="5.5" fill="#6699ff"/>
<ellipse cx="925" cy="1210.5" rx="5.6" ry="5.5" fill="#6699ff"/>
<ellipse cx="1007.5" cy="1209.9" rx="5.6" ry="5.5" fill="#6699ff"/>
<ellipse cx="1019.2" cy="1210.2" rx="5.6" ry="5.5" fill="#6699ff"/>
<ellipse cx="1122.8" cy="1209.7" rx="5.6" ry="5.5" fill="#6699ff"/>
<ellipse cx="1138.2" cy="1213.9" rx="5.6" ry="5.5" fill="#6699ff"/>
<ellipse cx="901.7" cy="1228.2" rx="5.6" ry="5.5" fill="#6699ff"/>
<ellipse cx="897.2" cy="1233" rx="5.6" ry="5.5" fill="#6699ff"/>
<ellipse cx="979.6" cy="1228" rx="5.6" ry="5.5" fill="#6699ff"/>
<ellipse cx="988.7" cy="1232.5" rx="5.6" ry="5.5" fill="#6699ff"/>
<ellipse cx="994" cy="1233.5" rx="5.6" ry="5.5" fill="#6699ff"/>
<ellipse cx="1172.2" cy="1231.7" rx="5.6" ry="5.5" fill="#6699ff"/>
<ellipse cx="1130.8" cy="1237.2" rx="5.6" ry="5.5" fill="#6699ff"/>
<ellipse cx="1154.9" cy="1237.2" rx="5.6" ry="5.5" fill="#6699ff"/>
<ellipse cx="1117.3" cy="1251" rx="5.6" ry="5.5" fill="#6699ff"/>
<ellipse cx="897.2" cy="1264.3" rx="5.6" ry="5.5" fill="#6699ff"/>
<ellipse cx="900.9" cy="1267.7" rx="5.6" ry="5.5" fill="#6699ff"/>
<ellipse cx="1172.2" cy="1267.2" rx="5.6" ry="5.5" fill="#6699ff"/>
<ellipse cx="1130.8" cy="1271.2" rx="5.6" ry="5.5" fill="#6699ff"/>
<ellipse cx="955.8" cy="1280.2" rx="5.6" ry="5.5" fill="#6699ff"/>
<ellipse cx="993.4" cy="1277.8" rx="5.6" ry="5.5" fill="#6699ff"/>
<ellipse cx="1021" cy="1282.1" rx="5.6" ry="5.5" fill="#6699ff"/>
<ellipse cx="1130.8" cy="1288.9" rx="5.6" ry="5.5" fill="#6699ff"/>
<ellipse cx="979.6" cy="1297.2" rx="5.6" ry="5.5" fill="#6699ff"/>
<ellipse cx="1268.2" cy="1327.9" rx="5.6" ry="5.5" fill="#6699ff"/>
<ellipse cx="1323.1" cy="1136.5" rx="4.4" ry="4.4" fill="#6699ff"/>
<ellipse cx="1076.2" cy="1359.5" rx="5.2" ry="5.2" fill="#6699ff"/>
<line x1="879.4" y1="1214.7" x2="1340" y2="1136.7" stroke="#231f20" stroke-width="1.6" />
<path d="M882.6 1172.5C891.2 1172.4 916.8 1172.1 934.3 1171.5C951.8 1170.9 969.7 1170.1 987.3 1168.8C1005 1167.5 1022.7 1165.9 1040.4 1163.5C1058 1161.2 1075.7 1158.4 1093.4 1154.8C1111.1 1151.1 1128.8 1146.8 1146.4 1141.5C1164.1 1136.2 1181.8 1129.6 1199.5 1122.9C1217.2 1116.3 1234.8 1108.8 1252.5 1101.7C1270.2 1094.7 1291.2 1086 1305.5 1080.5C1319.9 1075.1 1333.2 1071 1338.7 1069.1" fill="none" stroke="#231f20" stroke-width="1.5" stroke-dasharray="3.4 3.6"/>
<path d="M876 1258.7C881.3 1256.3 895.8 1249.1 907.8 1244.4C919.7 1239.7 934.3 1234.5 947.6 1230.3C960.8 1226.2 971.9 1223.4 987.3 1219.7C1002.8 1216.1 1022.7 1211.6 1040.4 1208.6C1058 1205.6 1075.7 1203.4 1093.4 1201.7C1111.1 1200 1128.8 1199.1 1146.4 1198.5C1164.1 1197.9 1181.8 1197.9 1199.5 1198C1217.2 1198.1 1234.8 1198.4 1252.5 1199.1C1270.2 1199.7 1291.4 1201 1305.5 1201.7C1319.7 1202.4 1332.1 1203 1337.4 1203.3" fill="none" stroke="#231f20" stroke-width="1.5" stroke-dasharray="3.4 3.6"/>
<text x="1332.6" y="854" font-size="35" text-anchor="end" >r=0.21, <tspan font-style="italic">P</tspan>=0.117</text>
<text x="1105.5" y="1427.9" font-size="35" text-anchor="middle" >Mean daily Off time in</text>
<text x="1105.5" y="1466.9" font-size="35" text-anchor="middle" >observer diaries (%)</text>
<ellipse cx="1076.2" cy="1359.5" rx="2.2" ry="2.2" fill="#2f8fe6"/>
<text x="730" y="1119.3" font-size="35" text-anchor="middle" transform="rotate(-90 730 1119.3)" >Cohen‘s <tspan font-family="Liberation Serif, DejaVu Serif, serif">κ</tspan>  per patient for observer</text>
<text x="770.7" y="1119.3" font-size="35" text-anchor="middle" transform="rotate(-90 770.7 1119.3)" >diary Off motor state detection (%)</text>
<text x="1368.2" y="765" font-size="45.5" text-anchor="start" >f</text>
<line x1="1581" y1="882.8" x2="1581" y2="1350.7" stroke="#231f20" stroke-width="1.7" />
<line x1="1569.8" y1="1338.3" x2="2049.6" y2="1338.3" stroke="#231f20" stroke-width="1.7" />
<line x1="1677.3" y1="1338.3" x2="1677.3" y2="1349.5" stroke="#231f20" stroke-width="1.7" />
<line x1="1765.6" y1="1338.3" x2="1765.6" y2="1349.5" stroke="#231f20" stroke-width="1.7" />
<line x1="1853.6" y1="1338.3" x2="1853.6" y2="1349.5" stroke="#231f20" stroke-width="1.7" />
<line x1="1949.2" y1="1338.3" x2="1949.2" y2="1349.5" stroke="#231f20" stroke-width="1.7" />
<line x1="2039.9" y1="1338.3" x2="2039.9" y2="1349.5" stroke="#231f20" stroke-width="1.7" />
<line x1="1569.8" y1="883.6" x2="1581" y2="883.6" stroke="#231f20" stroke-width="1.7" />
<line x1="1569.8" y1="974.6" x2="1581" y2="974.6" stroke="#231f20" stroke-width="1.7" />
<line x1="1569.8" y1="1066.7" x2="1581" y2="1066.7" stroke="#231f20" stroke-width="1.7" />
<line x1="1569.8" y1="1155.7" x2="1581" y2="1155.7" stroke="#231f20" stroke-width="1.7" />
<line x1="1569.8" y1="1247.3" x2="1581" y2="1247.3" stroke="#231f20" stroke-width="1.7" />
<text x="1581" y="1388.3" font-size="32" text-anchor="middle" >0</text>
<text x="1677.3" y="1388.3" font-size="32" text-anchor="middle" >20</text>
<text x="1765.6" y="1388.3" font-size="32" text-anchor="middle" >40</text>
<text x="1853.6" y="1388.3" font-size="32" text-anchor="middle" >60</text>
<text x="1949.2" y="1388.3" font-size="32" text-anchor="middle" >80</text>
<text x="2039.9" y="1388.3" font-size="32" text-anchor="middle" >100</text>
<text x="1554.2" y="895.2" font-size="32" text-anchor="end" >1.00</text>
<text x="1554.2" y="987.7" font-size="32" text-anchor="end" >0.75</text>
<text x="1554.2" y="1079.5" font-size="32" text-anchor="end" >0.50</text>
<text x="1554.2" y="1167.8" font-size="32" text-anchor="end" >0.25</text>
<text x="1554.2" y="1258" font-size="32" text-anchor="end" >0.00</text>
<text x="1553.7" y="1347.2" font-size="32" text-anchor="end" >-0.25</text>
<ellipse cx="1876.3" cy="908.1" rx="5.65" ry="5.4" fill="#ff6666"/>
<ellipse cx="1750.1" cy="938.4" rx="5.65" ry="5.4" fill="#ff6666"/>
<ellipse cx="1717.7" cy="996.5" rx="5.65" ry="5.4" fill="#ff6666"/>
<ellipse cx="1663.6" cy="1006.5" rx="5.65" ry="5.4" fill="#ff6666"/>
<ellipse cx="1867.8" cy="1016.6" rx="5.65" ry="5.4" fill="#ff6666"/>
<ellipse cx="1674.5" cy="1047.9" rx="5.65" ry="5.4" fill="#ff6666"/>
<ellipse cx="1919.2" cy="1052.4" rx="5.65" ry="5.4" fill="#ff6666"/>
<ellipse cx="1758" cy="1057.4" rx="5.65" ry="5.4" fill="#ff6666"/>
<ellipse cx="1827.8" cy="1055.9" rx="5.65" ry="5.4" fill="#ff6666"/>
<ellipse cx="1749.8" cy="1091.7" rx="5.65" ry="5.4" fill="#ff6666"/>
<ellipse cx="1717.7" cy="1094" rx="5.65" ry="5.4" fill="#ff6666"/>
<ellipse cx="1776" cy="1099.6" rx="5.65" ry="5.4" fill="#ff6666"/>
<ellipse cx="1696" cy="1101.7" rx="5.65" ry="5.4" fill="#ff6666"/>
<ellipse cx="1610" cy="1114.5" rx="5.65" ry="5.4" fill="#ff6666"/>
<ellipse cx="1825.4" cy="1118.2" rx="5.65" ry="5.4" fill="#ff6666"/>
<ellipse cx="1894.3" cy="1133.3" rx="5.65" ry="5.4" fill="#ff6666"/>
<ellipse cx="1780.3" cy="1141.5" rx="5.65" ry="5.4" fill="#ff6666"/>
<ellipse cx="1856.9" cy="1146" rx="5.65" ry="5.4" fill="#ff6666"/>
<ellipse cx="1900.7" cy="1145.8" rx="5.65" ry="5.4" fill="#ff6666"/>
<ellipse cx="1654.6" cy="1152.9" rx="5.65" ry="5.4" fill="#ff6666"/>
<ellipse cx="1728.3" cy="1157.2" rx="5.65" ry="5.4" fill="#ff6666"/>
<ellipse cx="1825.4" cy="1164.6" rx="5.65" ry="5.4" fill="#ff6666"/>
<ellipse cx="1744" cy="1167" rx="5.65" ry="5.4" fill="#ff6666"/>
<ellipse cx="1894.3" cy="1170.7" rx="5.65" ry="5.4" fill="#ff6666"/>
<ellipse cx="1922.2" cy="1179.2" rx="5.65" ry="5.4" fill="#ff6666"/>
<ellipse cx="1987.4" cy="1191.9" rx="5.65" ry="5.4" fill="#ff6666"/>
<ellipse cx="1827.8" cy="1196.9" rx="5.65" ry="5.4" fill="#ff6666"/>
<ellipse cx="1620.6" cy="1205.7" rx="5.65" ry="5.4" fill="#ff6666"/>
<ellipse cx="1739.2" cy="1210.7" rx="5.65" ry="5.4" fill="#ff6666"/>
<ellipse cx="1868.3" cy="1208.9" rx="5.65" ry="5.4" fill="#ff6666"/>
<ellipse cx="1868.3" cy="1215.2" rx="5.65" ry="5.4" fill="#ff6666"/>
<ellipse cx="1684.3" cy="1217.3" rx="5.65" ry="5.4" fill="#ff6666"/>
<ellipse cx="1793" cy="1217.9" rx="5.65" ry="5.4" fill="#ff6666"/>
<ellipse cx="1889.8" cy="1217.6" rx="5.65" ry="5.4" fill="#ff6666"/>
<ellipse cx="1668.1" cy="1222.4" rx="5.65" ry="5.4" fill="#ff6666"/>
<ellipse cx="1900.7" cy="1222.1" rx="5.65" ry="5.4" fill="#ff6666"/>
<ellipse cx="1846.8" cy="1236.7" rx="5.65" ry="5.4" fill="#ff6666"/>
<ellipse cx="1814.5" cy="1248.9" rx="5.65" ry="5.4" fill="#ff6666"/>
<ellipse cx="1615.1" cy="1262.2" rx="5.65" ry="5.4" fill="#ff6666"/>
<ellipse cx="1708.2" cy="1264.6" rx="5.65" ry="5.4" fill="#ff6666"/>
<ellipse cx="1836" cy="1263.2" rx="5.65" ry="5.4" fill="#ff6666"/>
<ellipse cx="1841" cy="1271.2" rx="5.65" ry="5.4" fill="#ff6666"/>
<ellipse cx="1707.1" cy="1291.3" rx="5.65" ry="5.4" fill="#ff6666"/>
<ellipse cx="1696" cy="1294" rx="5.65" ry="5.4" fill="#ff6666"/>
<ellipse cx="1825.4" cy="1359" rx="5.65" ry="5.4" fill="#ff6666"/>
<line x1="1582.7" y1="1164.3" x2="2042" y2="1154.8" stroke="#231f20" stroke-width="1.6" />
<path d="M1581.9 1090.3C1588.8 1092.8 1607.3 1100.2 1623 1105.2C1638.7 1110.2 1658.4 1116.4 1676.1 1120.3C1693.8 1124.1 1713.6 1126.6 1729.1 1128.2C1744.6 1129.9 1755.6 1130.1 1768.9 1130.1C1782.1 1130.1 1793.2 1129.9 1808.7 1128.2C1824.1 1126.6 1844 1123.8 1861.7 1120.3C1879.4 1116.8 1897.1 1112.2 1914.7 1107C1932.4 1101.9 1952.3 1094.8 1967.8 1089.3C1983.2 1083.7 1995.2 1078.9 2007.5 1073.9C2019.9 1068.9 2036.3 1061.7 2042 1059.3" fill="none" stroke="#231f20" stroke-width="1.5" stroke-dasharray="3.4 3.6"/>
<path d="M1582.7 1237.8C1589.4 1235.3 1607.5 1228.2 1623 1222.9C1638.6 1217.6 1658.4 1210.7 1676.1 1205.9C1693.8 1201.2 1713.6 1197.1 1729.1 1194.5C1744.6 1192 1757.8 1191.4 1768.9 1190.6C1779.9 1189.8 1784.4 1189.5 1795.4 1189.8C1806.5 1190.1 1819.7 1190.4 1835.2 1192.4C1850.7 1194.4 1870.5 1198 1888.2 1201.7C1905.9 1205.4 1923.6 1210 1941.3 1214.4C1958.9 1218.9 1977.7 1223.8 1994.3 1228.2C2010.9 1232.6 2033 1238.8 2040.7 1241" fill="none" stroke="#231f20" stroke-width="2.3" stroke-dasharray="3.6 3.6"/>
<text x="2042" y="855.5" font-size="34.6" text-anchor="end" >r=0.02, <tspan font-style="italic">P</tspan>=0.901</text>
<text x="1807.3" y="1428.4" font-size="35" text-anchor="middle" >Mean daily Dyskinetic time in</text>
<text x="1807.3" y="1467" font-size="35" text-anchor="middle" >observer diaries (%)</text>
<text x="1434.5" y="1122.3" font-size="35" text-anchor="middle" transform="rotate(-90 1434.5 1122.3)" >Cohen‘s <tspan font-family="Liberation Serif, DejaVu Serif, serif">κ</tspan>  per patient for observer</text>
<text x="1472.8" y="1123" font-size="35" text-anchor="middle" transform="rotate(-90 1472.8 1123)" >diary Dyskinetic state detection (%)</text>
<text x="171.5" y="1552.5" font-size="47.5" text-anchor="start" >g</text>
<rect x="503.5" y="1619.1" width="23.5" height="454.1" fill="#ffcc66" stroke="#231f20" stroke-width="1.6"/>
<rect x="555" y="1751.4" width="23.5" height="321.8" fill="#ffcc66" stroke="#231f20" stroke-width="1.6"/>
<rect x="608.2" y="1853.6" width="23.1" height="219.6" fill="#ffcc66" stroke="#231f20" stroke-width="1.6"/>
<rect x="660.6" y="1906" width="22.7" height="167.2" fill="#ffcc66" stroke="#231f20" stroke-width="1.6"/>
<rect x="712.1" y="1964.4" width="22.7" height="108.8" fill="#ffcc66" stroke="#231f20" stroke-width="1.6"/>
<rect x="765.7" y="1977.8" width="22.7" height="95.4" fill="#ffcc66" stroke="#231f20" stroke-width="1.6"/>
<rect x="369.6" y="1925.9" width="23.5" height="147.3" fill="#ed7d31" stroke="#231f20" stroke-width="1.6"/>
<rect x="421.1" y="1920.6" width="23.5" height="152.6" fill="#ed7d31" stroke="#231f20" stroke-width="1.6"/>
<rect x="474.3" y="1928.3" width="23.9" height="144.9" fill="#ed7d31" stroke="#231f20" stroke-width="1.6"/>
<rect x="527" y="1783" width="23.5" height="290.2" fill="#ed7d31" stroke="#231f20" stroke-width="1.6"/>
<rect x="578.6" y="1818.7" width="23.1" height="254.5" fill="#ed7d31" stroke="#231f20" stroke-width="1.6"/>
<rect x="631.7" y="1817.9" width="23.5" height="255.3" fill="#ed7d31" stroke="#231f20" stroke-width="1.6"/>
<rect x="683.7" y="1808.2" width="23.5" height="265" fill="#ed7d31" stroke="#231f20" stroke-width="1.6"/>
<rect x="734.8" y="1849.2" width="23.5" height="224" fill="#ed7d31" stroke="#231f20" stroke-width="1.6"/>
<rect x="789.2" y="1884.5" width="23.5" height="188.7" fill="#ed7d31" stroke="#231f20" stroke-width="1.6"/>
<line x1="338.7" y1="1618.2" x2="338.7" y2="2085.2" stroke="#231f20" stroke-width="1.7" />
<line x1="328.6" y1="2073.2" x2="821.7" y2="2073.2" stroke="#231f20" stroke-width="1.7" />
<line x1="369.3" y1="2073.2" x2="369.3" y2="2085.2" stroke="#231f20" stroke-width="1.7" />
<line x1="420.9" y1="2073.2" x2="420.9" y2="2085.2" stroke="#231f20" stroke-width="1.7" />
<line x1="474" y1="2073.2" x2="474" y2="2085.2" stroke="#231f20" stroke-width="1.7" />
<line x1="526" y1="2073.2" x2="526" y2="2085.2" stroke="#231f20" stroke-width="1.7" />
<line x1="578" y1="2073.2" x2="578" y2="2085.2" stroke="#231f20" stroke-width="1.7" />
<line x1="631.1" y1="2073.2" x2="631.1" y2="2085.2" stroke="#231f20" stroke-width="1.7" />
<line x1="682.7" y1="2073.2" x2="682.7" y2="2085.2" stroke="#231f20" stroke-width="1.7" />
<line x1="734.8" y1="2073.2" x2="734.8" y2="2085.2" stroke="#231f20" stroke-width="1.7" />
<line x1="788.1" y1="2073.2" x2="788.1" y2="2085.2" stroke="#231f20" stroke-width="1.7" />
<line x1="328.6" y1="1619.1" x2="338.7" y2="1619.1" stroke="#231f20" stroke-width="1.7" />
<line x1="328.6" y1="1731.9" x2="338.7" y2="1731.9" stroke="#231f20" stroke-width="1.7" />
<line x1="328.6" y1="1847.1" x2="338.7" y2="1847.1" stroke="#231f20" stroke-width="1.7" />
<line x1="328.6" y1="1960" x2="338.7" y2="1960" stroke="#231f20" stroke-width="1.7" />
<text x="318" y="1629.7" font-size="32" text-anchor="end" >100</text>
<text x="315.1" y="1740.2" font-size="32" text-anchor="end" >75</text>
<text x="315.1" y="1856.5" font-size="32" text-anchor="end" >50</text>
<text x="315.3" y="1969.4" font-size="32" text-anchor="end" >25</text>
<text x="320.2" y="2081.5" font-size="32" text-anchor="end" >0</text>
<text x="369.3" y="2124.2" font-size="32" text-anchor="middle" transform="translate(369.3 0) scale(0.855 1) translate(-369.3 0)">-90</text>
<text x="420.9" y="2124.2" font-size="32" text-anchor="middle" transform="translate(420.9 0) scale(0.855 1) translate(-420.9 0)">-60</text>
<text x="474" y="2124.2" font-size="32" text-anchor="middle" transform="translate(474 0) scale(0.855 1) translate(-474 0)">-30</text>
<text x="526" y="2124.2" font-size="32" text-anchor="middle" transform="translate(526 0) scale(0.855 1) translate(-526 0)">0</text>
<text x="578" y="2124.2" font-size="32" text-anchor="middle" transform="translate(578 0) scale(0.855 1) translate(-578 0)">30</text>
<text x="631.1" y="2124.2" font-size="32" text-anchor="middle" transform="translate(631.1 0) scale(0.855 1) translate(-631.1 0)">60</text>
<text x="682.7" y="2124.2" font-size="32" text-anchor="middle" transform="translate(682.7 0) scale(0.855 1) translate(-682.7 0)">90</text>
<text x="734.8" y="2124.2" font-size="32" text-anchor="middle" transform="translate(734.8 0) scale(0.855 1) translate(-734.8 0)">120</text>
<text x="788.1" y="2124.2" font-size="32" text-anchor="middle" transform="translate(788.1 0) scale(0.855 1) translate(-788.1 0)">150</text>
<path d="M527.3 1683.6 L545.8 1674.3 L545.8 1692.9 Z" fill="#231f20"/>
<line x1="545" y1="1683.6" x2="578.3" y2="1683.6" stroke="#231f20" stroke-width="1.5" />
<text x="585.6" y="1673.8" font-size="31.8" text-anchor="start" >Onset of</text>
<text x="585.6" y="1709.8" font-size="31.8" text-anchor="start" >Off episode</text>
<text x="230" y="1845" font-size="35" text-anchor="middle" transform="rotate(-90 230 1845)" >Motor Off state rating (%)</text>
<text x="584" y="2176" font-size="35" text-anchor="middle" >Time prior and during</text>
<text x="584" y="2215.4" font-size="35" text-anchor="middle" >observer-rated Off episodes (min)</text>
<rect x="871.2" y="1746.9" width="17" height="20.5" fill="#ffcc66" stroke="#231f20" stroke-width="1.6"/>
<rect x="871.2" y="1829.9" width="17" height="20.5" fill="#ed7d31" stroke="#231f20" stroke-width="1.6"/>
<text x="908.6" y="1767.2" font-size="35" textLength="193.8" lengthAdjust="spacingAndGlyphs">Observer diary</text>
<text x="908.6" y="1850.0" font-size="35" textLength="164.2" lengthAdjust="spacingAndGlyphs">adPMD data</text>
<text x="1191" y="1552" font-size="45.5" text-anchor="start" >h</text>
<rect x="1592.5" y="1779.8" width="38.2" height="293.5" fill="#ed7d31" stroke="#231f20" stroke-width="1.6"/>
<rect x="1644.9" y="1834.1" width="37.8" height="239.2" fill="#ed7d31" stroke="#231f20" stroke-width="1.6"/>
<rect x="1697.8" y="1783.9" width="37.8" height="289.4" fill="#ed7d31" stroke="#231f20" stroke-width="1.6"/>
<rect x="1749.4" y="1757.2" width="37.7" height="316.1" fill="#ed7d31" stroke="#231f20" stroke-width="1.6"/>
<rect x="1801.3" y="1747.6" width="37.3" height="325.7" fill="#ed7d31" stroke="#231f20" stroke-width="1.6"/>
<rect x="1854.7" y="1931.6" width="37.7" height="141.7" fill="#ed7d31" stroke="#231f20" stroke-width="1.6"/>
<line x1="1423.7" y1="1617.5" x2="1423.7" y2="2085.3" stroke="#231f20" stroke-width="1.7" />
<line x1="1412.2" y1="2073.3" x2="1906.7" y2="2073.3" stroke="#231f20" stroke-width="1.7" />
<line x1="1454" y1="2073.3" x2="1454" y2="2085.3" stroke="#231f20" stroke-width="1.7" />
<line x1="1506" y1="2073.3" x2="1506" y2="2085.3" stroke="#231f20" stroke-width="1.7" />
<line x1="1558.9" y1="2073.3" x2="1558.9" y2="2085.3" stroke="#231f20" stroke-width="1.7" />
<line x1="1610.9" y1="2073.3" x2="1610.9" y2="2085.3" stroke="#231f20" stroke-width="1.7" />
<line x1="1662.9" y1="2073.3" x2="1662.9" y2="2085.3" stroke="#231f20" stroke-width="1.7" />
<line x1="1715.8" y1="2073.3" x2="1715.8" y2="2085.3" stroke="#231f20" stroke-width="1.7" />
<line x1="1767.8" y1="2073.3" x2="1767.8" y2="2085.3" stroke="#231f20" stroke-width="1.7" />
<line x1="1819.7" y1="2073.3" x2="1819.7" y2="2085.3" stroke="#231f20" stroke-width="1.7" />
<line x1="1873.1" y1="2073.3" x2="1873.1" y2="2085.3" stroke="#231f20" stroke-width="1.7" />
<line x1="1412.2" y1="1618.3" x2="1423.7" y2="1618.3" stroke="#231f20" stroke-width="1.7" />
<line x1="1412.2" y1="1731.5" x2="1423.7" y2="1731.5" stroke="#231f20" stroke-width="1.7" />
<line x1="1412.2" y1="1846.5" x2="1423.7" y2="1846.5" stroke="#231f20" stroke-width="1.7" />
<line x1="1412.2" y1="1959.6" x2="1423.7" y2="1959.6" stroke="#231f20" stroke-width="1.7" />
<text x="1403" y="1629.9" font-size="32" text-anchor="end" >100</text>
<text x="1400.1" y="1740.2" font-size="32" text-anchor="end" >75</text>
<text x="1400.1" y="1856.7" font-size="32" text-anchor="end" >50</text>
<text x="1400.3" y="1968.3" font-size="32" text-anchor="end" >25</text>
<text x="1404.9" y="2081.2" font-size="32" text-anchor="end" >0</text>
<text x="1454" y="2123.3" font-size="32" text-anchor="middle" transform="translate(1454 0) scale(0.855 1) translate(-1454 0)">-90</text>
<text x="1506" y="2123.3" font-size="32" text-anchor="middle" transform="translate(1506 0) scale(0.855 1) translate(-1506 0)">-60</text>
<text x="1558.9" y="2123.3" font-size="32" text-anchor="middle" transform="translate(1558.9 0) scale(0.855 1) translate(-1558.9 0)">-30</text>
<text x="1610.9" y="2123.3" font-size="32" text-anchor="middle" transform="translate(1610.9 0) scale(0.855 1) translate(-1610.9 0)">0</text>
<text x="1662.9" y="2123.3" font-size="32" text-anchor="middle" transform="translate(1662.9 0) scale(0.855 1) translate(-1662.9 0)">30</text>
<text x="1715.8" y="2123.3" font-size="32" text-anchor="middle" transform="translate(1715.8 0) scale(0.855 1) translate(-1715.8 0)">60</text>
<text x="1767.8" y="2123.3" font-size="32" text-anchor="middle" transform="translate(1767.8 0) scale(0.855 1) translate(-1767.8 0)">90</text>
<text x="1819.7" y="2123.3" font-size="32" text-anchor="middle" transform="translate(1819.7 0) scale(0.855 1) translate(-1819.7 0)">120</text>
<text x="1873.1" y="2123.3" font-size="32" text-anchor="middle" transform="translate(1873.1 0) scale(0.855 1) translate(-1873.1 0)">150</text>
<line x1="1610.9" y1="1611.9" x2="1610.9" y2="2073.3" stroke="#231f20" stroke-width="1.5" stroke-dasharray="5 2"/>
<path d="M1611.4 1683.4 L1630.7 1674.0 L1630.7 1692.8 Z" fill="#231f20"/>
<line x1="1630" y1="1683.2" x2="1662.9" y2="1683.2" stroke="#231f20" stroke-width="1.5" />
<text x="1670.6" y="1674" font-size="31.8" text-anchor="start" >Onset of</text>
<text x="1670.6" y="1709.8" font-size="31.8" text-anchor="start" >Off episode</text>
<text x="1276.8" y="1843" font-size="35" text-anchor="middle" transform="rotate(-90 1276.8 1843)" >Sensitivity for observer diary</text>
<text x="1315.9" y="1843" font-size="35" text-anchor="middle" transform="rotate(-90 1315.9 1843)" >Off state detection (%)</text>
<text x="1677.3" y="2175.4" font-size="35" text-anchor="middle" >Time prior and during</text>
<text x="1677.3" y="2214.5" font-size="35" text-anchor="middle" >observer-rated Off episodes (min)</text>
</svg>
</body></html>
